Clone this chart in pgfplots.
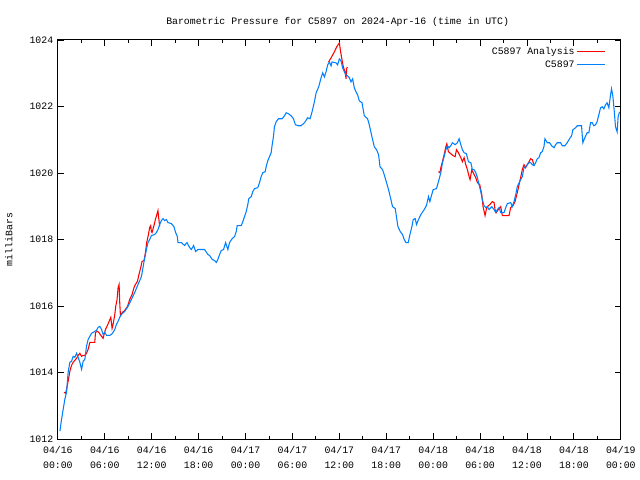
\documentclass[border=0pt]{standalone}
\usepackage{fontspec}
\setmainfont{Liberation Mono}
\usepackage{pgfplots}
\pgfplotsset{compat=1.18}
\definecolor{gblue}{RGB}{0,128,255}
\definecolor{gred}{RGB}{255,0,0}
\begin{document}
\begin{tikzpicture}
\begin{axis}[
  scale only axis,
  width=423pt, height=300pt,
  xmin=0, xmax=72, ymin=1012, ymax=1024,
  font=\fontsize{7.4}{9}\selectfont,
  /pgf/number format/assume math mode=true,
  xtick={0,6,...,72},
  minor xtick={3,9,...,69},
  xticklabels={04/16\\00:00,04/16\\06:00,04/16\\12:00,04/16\\18:00,04/17\\00:00,04/17\\06:00,04/17\\12:00,04/17\\18:00,04/18\\00:00,04/18\\06:00,04/18\\12:00,04/18\\18:00,04/19\\00:00},
  xticklabel style={align=center, font=\fontsize{7.4}{11.3}\selectfont, yshift=-2pt},
  ytick={1012,1014,...,1024},
  yticklabels={1012,1014,1016,1018,1020,1022,1024},
  tick align=inside,
  major tick length=4.5pt,
  minor tick length=2.5pt,
  tick style={black, line width=0.6pt},
  axis line style={black, line width=0.8pt},
  title={Barometric Pressure for C5897 on 2024-Apr-16 (time in UTC)},
  title style={at={(axis description cs:0.497,1)}, anchor=south, yshift=0.5pt},
  ylabel={milliBars},
  ylabel style={at={(axis description cs:-0.087,0.5)}, anchor=center},
  legend style={at={(axis description cs:1,1)}, anchor=north east, xshift=-11.5pt, yshift=-4pt, draw=none, fill=none, inner sep=0pt, row sep=0pt,
    nodes={text height=5.5pt, text depth=1.6pt, inner sep=1.2pt},
    font=\fontsize{7.4}{9}\selectfont},
  legend cell align=right,
  legend plot pos=right,
  legend image code/.code={\draw[#1] (5pt,0pt) -- (26pt,0pt);},
  unbounded coords=jump,
]
\addplot[gred, line width=0.8pt] coordinates {
(0.80,1013.41)(0.98,1013.38)(1.11,1013.50)(1.31,1013.74)(1.53,1014.04)(1.75,1014.22)(1.95,1014.31)(2.17,1014.37)(2.39,1014.43)(2.59,1014.52)(2.81,1014.58)(3.03,1014.49)(3.23,1014.52)(3.45,1014.52)(3.66,1014.58)(3.87,1014.70)(4.09,1014.91)(4.72,1014.91)(4.81,1015.21)(5.07,1015.24)(5.23,1015.21)(5.49,1015.12)(5.78,1015.03)(5.91,1015.15)(6.09,1015.30)(6.34,1015.42)(6.55,1015.54)(6.77,1015.66)(6.93,1015.33)(7.06,1015.45)(7.28,1015.75)(7.40,1015.99)(7.57,1016.20)(7.70,1016.56)(7.83,1016.65)(7.91,1016.11)(8.00,1015.72)(8.26,1015.81)(8.55,1015.87)(8.90,1015.99)(9.19,1016.20)(9.49,1016.35)(9.74,1016.56)(9.92,1016.65)(10.17,1016.74)(10.34,1016.92)(10.60,1017.16)(10.76,1017.34)(11.02,1017.37)(11.20,1017.61)(11.36,1017.91)(11.53,1018.09)(11.74,1018.36)(11.87,1018.42)(11.96,1018.24)(12.04,1018.21)(12.29,1018.42)(12.47,1018.60)(12.73,1018.81)(12.80,1018.87)(12.89,1018.66)(13.02,1018.39)
(13.10,nan)
(34.63,1023.34)(34.94,1023.46)(35.36,1023.64)(35.66,1023.79)(35.91,1023.88)(36.00,1023.91)(36.13,1023.70)(36.34,1023.40)(36.51,1023.19)(36.73,1023.04)(36.86,1022.83)(36.93,1023.13)(37.02,1023.19)
(37.10,nan)
(48.68,1020.04)(48.86,1020.01)(48.98,1020.16)(49.19,1020.34)(49.40,1020.55)(49.62,1020.79)(49.75,1020.88)(49.95,1020.64)(50.26,1020.58)(50.55,1020.52)(50.81,1020.49)(50.98,1020.70)(51.23,1020.61)(51.54,1020.46)(51.74,1020.34)(51.96,1020.46)(52.17,1020.25)(52.38,1020.10)(52.60,1019.89)(52.72,1019.80)(52.94,1020.10)(53.11,1020.01)(53.45,1019.86)(53.66,1019.71)(53.96,1019.65)(54.22,1019.35)(54.38,1018.99)(54.64,1018.72)(54.80,1018.90)(54.93,1018.99)(55.24,1019.05)(55.57,1019.14)(55.79,1019.11)(55.91,1018.90)(56.08,1018.81)(56.34,1018.90)(56.64,1018.99)(56.85,1018.72)(57.70,1018.72)(57.92,1018.96)(58.21,1019.02)(58.47,1019.14)(58.76,1019.41)(59.19,1019.86)(59.40,1020.10)(59.62,1020.25)(59.83,1020.16)(60.04,1020.25)(60.26,1020.34)(60.47,1020.43)(60.68,1020.40)(60.89,1020.25)
};
\addlegendentry{C5897 Analysis}
\addplot[gblue, line width=0.8pt] coordinates {
(0.26,1012.24)(0.47,1012.60)(0.68,1012.90)(0.89,1013.20)(1.11,1013.41)(1.31,1014.01)(1.53,1014.31)(1.75,1014.34)(1.95,1014.49)(2.17,1014.46)(2.39,1014.58)(2.59,1014.46)(2.81,1014.31)(3.03,1014.10)(3.23,1014.34)(3.45,1014.40)(3.66,1014.79)(3.87,1015.00)(4.09,1015.09)(4.30,1015.18)(4.51,1015.21)(4.72,1015.24)(4.94,1015.27)(5.14,1015.36)(5.36,1015.39)(5.58,1015.30)(5.78,1015.15)(6.00,1015.21)(6.22,1015.12)(6.64,1015.12)(6.86,1015.15)(7.06,1015.21)(7.28,1015.30)(7.49,1015.45)(7.70,1015.54)(7.91,1015.66)(8.13,1015.75)(8.55,1015.84)(8.97,1015.99)(9.41,1016.20)(9.83,1016.41)(10.25,1016.65)(10.69,1016.89)(11.02,1017.34)(11.32,1017.70)(11.53,1017.91)(11.74,1018.00)(11.96,1018.12)(12.38,1018.15)(12.60,1018.21)(12.80,1018.30)(13.02,1018.45)(13.24,1018.57)(13.44,1018.63)(13.66,1018.57)(13.88,1018.60)(14.08,1018.51)(14.51,1018.48)(14.84,1018.39)(15.06,1018.21)(15.28,1018.09)(15.36,1017.91)(15.79,1017.91)(16.21,1017.82)(16.51,1017.91)(16.85,1017.76)(17.07,1017.70)(17.36,1017.82)(17.62,1017.64)(17.91,1017.70)(18.77,1017.70)(19.19,1017.55)(19.40,1017.52)(19.75,1017.40)(20.04,1017.37)(20.26,1017.31)(20.46,1017.40)(20.68,1017.55)(20.90,1017.67)(21.19,1017.70)(21.45,1017.91)(21.61,1017.79)(21.74,1017.70)(21.96,1017.91)(22.30,1018.03)(22.60,1018.09)(22.81,1018.24)(22.94,1018.42)(23.45,1018.42)(23.66,1018.54)(23.87,1018.69)(24.09,1018.84)(24.29,1019.05)(24.42,1019.23)(24.73,1019.29)(24.93,1019.44)(25.15,1019.53)(25.57,1019.56)(25.79,1019.71)(26.00,1019.89)(26.21,1020.01)(26.52,1020.04)(26.64,1020.19)(26.85,1020.37)(27.06,1020.49)(27.28,1020.61)(27.41,1020.85)(27.57,1021.09)(27.70,1021.39)(27.92,1021.54)(28.21,1021.63)(28.69,1021.63)(28.98,1021.72)(29.20,1021.81)(29.49,1021.78)(29.83,1021.72)(30.13,1021.63)(30.38,1021.45)(30.80,1021.42)(31.11,1021.42)(31.53,1021.51)(31.95,1021.66)(32.26,1021.63)(32.51,1021.84)(32.81,1022.14)(33.03,1022.41)(33.36,1022.59)(33.66,1022.86)(33.87,1023.01)(34.09,1022.89)(34.30,1023.04)(34.51,1023.25)(34.72,1023.34)(34.94,1023.22)(35.07,1023.34)(35.58,1023.31)(35.78,1023.25)(36.00,1023.43)(36.22,1023.37)(36.42,1023.16)(36.64,1023.04)(36.86,1022.95)(37.06,1022.92)(37.28,1022.86)(37.49,1022.74)(37.70,1022.83)(37.91,1022.56)(38.13,1022.44)(38.34,1022.35)(38.55,1022.17)(38.90,1022.11)(39.19,1021.72)(39.61,1021.63)(39.83,1021.45)(40.17,1021.09)(40.47,1020.79)(40.76,1020.70)(41.02,1020.55)(41.20,1020.19)(41.53,1020.10)(41.74,1019.95)(42.04,1019.71)(42.29,1019.50)(42.60,1019.20)(42.80,1018.99)(43.15,1018.93)(43.32,1018.66)(43.49,1018.39)(43.79,1018.24)(44.08,1018.15)(44.30,1018.00)(44.52,1017.91)(44.81,1017.91)(45.03,1018.15)(45.28,1018.39)(45.45,1018.60)(45.70,1018.63)(45.87,1018.45)(46.12,1018.60)(46.43,1018.75)(46.85,1018.90)(47.14,1019.02)(47.40,1019.29)(47.58,1019.14)(47.71,1019.26)(48.00,1019.50)(48.42,1019.53)(48.68,1019.74)(48.98,1020.01)(49.19,1020.31)(49.40,1020.49)(49.62,1020.70)(49.83,1020.82)(50.04,1020.76)(50.26,1020.82)(50.46,1020.91)(50.81,1020.85)(51.10,1020.91)(51.32,1021.03)(51.54,1020.85)(51.74,1020.70)(51.96,1020.61)(52.25,1020.58)(52.51,1020.34)(52.82,1020.31)(53.02,1020.10)(53.23,1020.10)(53.45,1020.01)(53.66,1019.86)(53.87,1019.65)(54.09,1019.44)(54.29,1019.20)(54.51,1019.02)(54.73,1018.96)(54.93,1018.99)(55.15,1018.90)(55.49,1018.99)(55.79,1018.90)(56.00,1018.81)(56.21,1018.90)(56.43,1018.96)(56.64,1018.81)(57.06,1018.81)(57.28,1018.96)(57.49,1019.08)(57.92,1019.11)(58.12,1018.99)(58.34,1019.14)(58.56,1019.35)(58.76,1019.59)(59.19,1019.80)(59.40,1019.89)(59.62,1020.16)(59.83,1020.19)(60.04,1020.25)(60.26,1020.31)(60.47,1020.31)(60.68,1020.25)(60.89,1020.22)(61.11,1020.31)(61.32,1020.43)(61.53,1020.46)(61.75,1020.61)(61.95,1020.64)(62.17,1020.79)(62.30,1021.03)(62.59,1020.91)(62.90,1020.91)(63.15,1020.82)(63.45,1020.76)(63.66,1020.85)(63.87,1020.91)(64.30,1020.91)(64.51,1020.82)(64.85,1020.82)(65.14,1020.91)(65.45,1021.03)(65.71,1021.12)(65.87,1021.30)(66.22,1021.36)(66.42,1021.42)(66.98,1021.42)(67.06,1021.15)(67.15,1020.91)(67.40,1021.06)(67.70,1021.21)(67.91,1021.21)(68.13,1021.51)(68.34,1021.51)(68.55,1021.42)(68.77,1021.45)(68.97,1021.54)(69.19,1021.75)(69.41,1021.96)(69.61,1021.99)(69.83,1021.93)(70.05,1022.05)(70.25,1022.11)(70.47,1021.96)(70.69,1022.35)(70.81,1022.53)(70.98,1022.32)(71.15,1021.90)(71.32,1021.39)(71.53,1021.24)(71.66,1021.69)(71.84,1021.84)
};
\addlegendentry{C5897}
\end{axis}
\path ([shift={(-43.5pt,-30pt)}]current axis.south west) rectangle ([shift={(13.5pt,30pt)}]current axis.north east);
\end{tikzpicture}
\end{document}
